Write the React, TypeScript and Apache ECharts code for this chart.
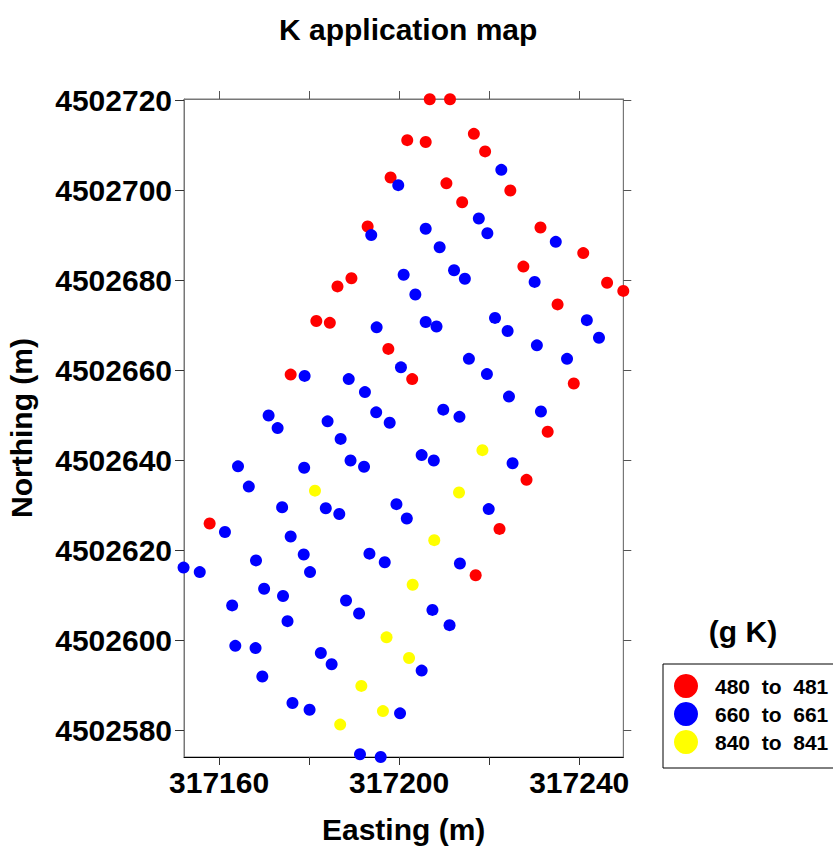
import React, { useEffect, useRef } from 'react';
import * as echarts from 'echarts';

const FONT = '"Liberation Sans", Arial, Helvetica, sans-serif';

const classNames = ['480  to  481', '660  to  661', '840  to  841'];
const classColors = ['#ff0000', '#0000ff', '#ffff00'];

const redEasting = [317206.8, 317211.3, 317201.8, 317205.9, 317216.6, 317219.1, 317198.1, 317210.5, 317224.7, 317214.0, 317193.0, 317231.4, 317240.9, 317227.6, 317189.4, 317186.3, 317246.2, 317249.8, 317235.2, 317181.6, 317184.6, 317197.6, 317175.9, 317202.9, 317238.8, 317233.0, 317228.3, 317157.9, 317222.3, 317217.0];
const redNorthing = [4502720.3, 4502720.3, 4502711.2, 4502710.8, 4502712.6, 4502708.7, 4502702.9, 4502701.6, 4502700.0, 4502697.4, 4502692.0, 4502691.8, 4502686.1, 4502683.1, 4502680.5, 4502678.7, 4502679.5, 4502677.7, 4502674.7, 4502671.0, 4502670.6, 4502664.8, 4502659.1, 4502658.1, 4502657.1, 4502646.4, 4502635.7, 4502626.0, 4502624.8, 4502614.5];

const blueEasting = [317222.7, 317199.8, 317217.7, 317219.6, 317193.8, 317205.9, 317209.0, 317234.8, 317230.1, 317201.0,
  317212.2, 317214.6, 317203.6, 317195.0, 317205.9, 317208.3, 317221.3, 317224.1, 317241.7, 317244.4,
  317230.6, 317200.4, 317215.5, 317237.3, 317179.0, 317188.8, 317219.5, 317192.4, 317224.4, 317171.0,
  317173.0, 317184.1, 317187.0, 317194.9, 317197.9, 317209.8, 317213.4, 317231.5, 317164.2, 317178.9,
  317189.2, 317192.2, 317205.0, 317207.7, 317225.2, 317166.6, 317174.0, 317183.7, 317186.7, 317199.4,
  317201.7, 317219.9, 317161.3, 317175.9, 317152.1, 317155.7, 317168.2, 317178.8, 317180.2, 317193.4,
  317196.8, 317213.5, 317170.0, 317174.2, 317188.2, 317191.1, 317207.4, 317162.9, 317175.2, 317211.2,
  317163.6, 317168.1, 317182.6, 317185.0, 317205.0, 317169.6, 317176.3, 317180.1, 317200.2, 317191.3,
  317195.9];
const blueNorthing = [4502704.6, 4502701.2, 4502693.8, 4502690.5, 4502690.1, 4502691.5, 4502687.4, 4502688.6, 4502679.7, 4502681.3,
  4502682.3, 4502680.4, 4502676.9, 4502669.6, 4502670.8, 4502669.8, 4502671.7, 4502668.8, 4502671.2, 4502667.3,
  4502665.6, 4502660.7, 4502662.6, 4502662.6, 4502658.8, 4502658.1, 4502659.2, 4502655.2, 4502654.2, 4502650.0,
  4502647.2, 4502648.7, 4502644.8, 4502650.7, 4502648.4, 4502651.3, 4502649.7, 4502650.9, 4502638.7, 4502638.4,
  4502640.0, 4502638.6, 4502641.2, 4502640.0, 4502639.4, 4502634.2, 4502629.6, 4502629.4, 4502628.1, 4502630.3,
  4502627.1, 4502629.2, 4502624.1, 4502623.1, 4502616.2, 4502615.2, 4502617.8, 4502619.1, 4502615.2, 4502619.3,
  4502617.4, 4502617.1, 4502611.5, 4502609.9, 4502608.9, 4502606.0, 4502606.8, 4502607.8, 4502604.3, 4502603.4,
  4502598.8, 4502598.3, 4502597.2, 4502594.7, 4502593.3, 4502592.0, 4502586.1, 4502584.6, 4502583.8, 4502574.7,
  4502574.1];

const yellowEasting = [317218.5, 317181.3, 317213.3, 317207.8, 317203.0, 317197.2, 317202.2, 317191.6, 317196.4, 317186.9];
const yellowNorthing = [4502642.3, 4502633.3, 4502632.9, 4502622.3, 4502612.4, 4502600.7, 4502596.1, 4502589.9, 4502584.3, 4502581.3];

const xTickValues = [317160, 317180, 317200, 317220, 317240];
const xLabelValues = [317160, 317200, 317240];
const yTickValues = [4502580, 4502600, 4502620, 4502640, 4502660, 4502680, 4502700, 4502720];

const X_MIN = 317152.2;
const X_MAX = 317249.8;
const Y_MIN = 4502574.1;
const Y_MAX = 4502720.35;

const pairs = (xs: number[], ys: number[]) => xs.map((x, i) => [x, ys[i]]);

export default function App() {
  const ref = useRef<HTMLDivElement>(null);
  useEffect(() => {
    document.body.style.margin = '0';
    if (!ref.current) return;
    const chart = echarts.init(ref.current, null, { renderer: 'svg' });
    const labelStyle = { fontSize: 30, fontWeight: 'bold' as const, color: '#000', fontFamily: FONT };
    const nameStyle = { fontSize: 30, fontWeight: 'bold' as const, color: '#000', fontFamily: FONT };
    const seriesData = [
      pairs(redEasting, redNorthing),
      pairs(blueEasting, blueNorthing),
      pairs(yellowEasting, yellowNorthing),
    ];
    chart.setOption({
      animation: false,
      backgroundColor: '#fff',
      title: {
        text: 'K application map',
        left: 274,
        top: 9,
        textStyle: { fontSize: 30, fontWeight: 'bold', color: '#000', fontFamily: FONT },
      },
      grid: {
        left: 184,
        top: 99,
        width: 439.3,
        height: 658,
        show: true,
        borderColor: '#777',
        borderWidth: 1,
        outerBoundsMode: 'none',
        containLabel: false,
      },
      legend: {
        orient: 'vertical',
        left: 663,
        top: 664,
        padding: [10, 20, 14, 11],
        itemWidth: 24,
        itemHeight: 24,
        itemGap: 4,
        icon: 'circle',
        borderColor: '#000',
        borderWidth: 1,
        selectedMode: false,
        data: classNames,
        textStyle: { fontSize: 21, fontWeight: 'bold', color: '#000', fontFamily: FONT, padding: [0, 0, 0, 12] },
      },
      graphic: [
        {
          type: 'text',
          x: 743,
          y: 631,
          style: {
            text: '(g K)',
            align: 'center',
            verticalAlign: 'middle',
            font: 'bold 30px "Liberation Sans", Arial, sans-serif',
            fill: '#000',
          },
        },
      ],
      xAxis: [
        {
          type: 'value',
          position: 'bottom',
          min: X_MIN,
          max: X_MAX,
          name: 'Easting (m)',
          nameLocation: 'middle',
          nameGap: 57,
          nameTextStyle: nameStyle,
          axisLine: { onZero: false, lineStyle: { color: '#000', width: 1 } },
          axisTick: { show: true, length: 8, customValues: xTickValues, lineStyle: { color: '#333' } },
          axisLabel: { customValues: xLabelValues, formatter: (v: number) => String(v), margin: 10, ...labelStyle },
          splitLine: { show: false },
        },
        {
          type: 'value',
          position: 'top',
          min: X_MIN,
          max: X_MAX,
          axisLine: { onZero: false, lineStyle: { color: '#777', width: 1 } },
          axisTick: { show: true, length: 8, customValues: xTickValues, lineStyle: { color: '#555' } },
          axisLabel: { show: false },
          splitLine: { show: false },
        },
      ],
      yAxis: [
        {
          type: 'value',
          position: 'left',
          min: Y_MIN,
          max: Y_MAX,
          name: 'Northing (m)',
          nameLocation: 'middle',
          nameGap: 148,
          nameTextStyle: nameStyle,
          axisLine: { onZero: false, lineStyle: { color: '#777', width: 1 } },
          axisTick: { show: true, length: 9, customValues: yTickValues, lineStyle: { color: '#333' } },
          axisLabel: { customValues: yTickValues, formatter: (v: number) => String(v), margin: 12, ...labelStyle },
          splitLine: { show: false },
        },
        {
          type: 'value',
          position: 'right',
          min: Y_MIN,
          max: Y_MAX,
          axisLine: { onZero: false, lineStyle: { color: '#777', width: 1 } },
          axisTick: { show: true, length: 8, customValues: yTickValues, lineStyle: { color: '#555' } },
          axisLabel: { show: false },
          splitLine: { show: false },
        },
      ],
      series: seriesData.map((data, i) => ({
        type: 'scatter',
        name: classNames[i],
        xAxisIndex: 0,
        yAxisIndex: 0,
        data,
        symbol: 'circle',
        symbolSize: 12,
        clip: false,
        itemStyle: { color: classColors[i], opacity: 1 },
        emphasis: { disabled: true },
      })),
    });
    return () => chart.dispose();
  }, []);
  return <div ref={ref} style={{ width: 833, height: 849 }} />;
}
